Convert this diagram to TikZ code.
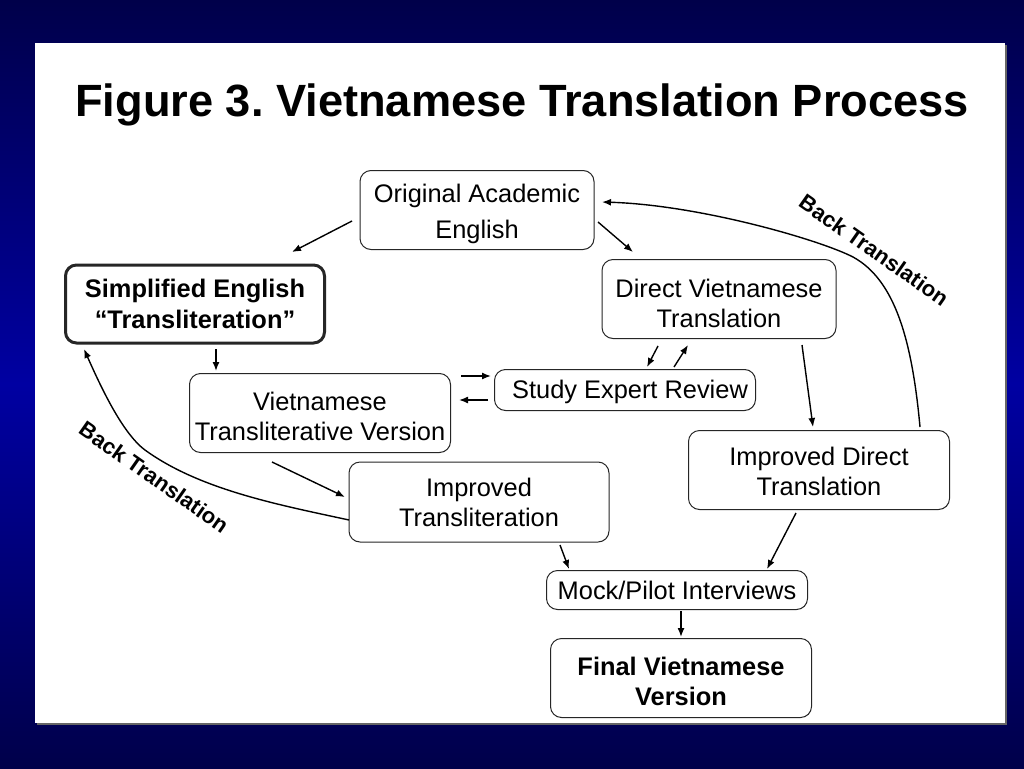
\documentclass[tikz,border=0pt]{standalone}
\usepackage{fontspec}
\setmainfont{Liberation Sans}
\usetikzlibrary{arrows.meta}
\definecolor{navy}{HTML}{00004A}
\definecolor{midblue}{HTML}{0000A2}
\begin{document}
\frenchspacing
\begin{tikzpicture}[x=1pt,y=-1pt,
  box/.style={draw=black!85,line width=1pt,rounded corners=11pt,fill=white,inner sep=0pt},
  thickbox/.style={box,line width=3pt},
  txt/.style={inner sep=0pt,align=center,font=\fontsize{25.4}{30}\selectfont},
  btxt/.style={txt,font=\bfseries\fontsize{25.4}{31}\selectfont},
  arr/.style={line width=1.4pt,-{Latex[length=9pt,width=7pt]}},
  lab/.style={font=\bfseries\fontsize{22}{24}\selectfont,rotate=-35}]
\useasboundingbox (0,0) rectangle (1024,768);
\shade[top color=navy,bottom color=navy,middle color=midblue] (0,0) rectangle (1024,768);
\fill[black!60] (37,45) rectangle (1007,725);
\fill[white] (35,43) rectangle (1005,723);
% title
\node[font=\bfseries\fontsize{45.2}{50}\selectfont] (title) at (522,105) {Figure 3. Vietnamese Translation Process};
% boxes
\node[box,minimum width=234pt,minimum height=79pt] (orig) at (477,210) {};
\node[thickbox,minimum width=259pt,minimum height=78pt] (simp) at (195,304) {};
\node[box,minimum width=234pt,minimum height=79pt] (direct) at (719,299) {};
\node[box,minimum width=261pt,minimum height=79pt] (vtv) at (320,413) {};
\node[box,minimum width=261pt,minimum height=41pt] (ser) at (625,390) {};
\node[box,minimum width=261pt,minimum height=79pt] (idt) at (819,470) {};
\node[box,minimum width=260pt,minimum height=80pt] (itr) at (479,502) {};
\node[box,minimum width=261pt,minimum height=39pt] (mock) at (677,590) {};
\node[box,minimum width=261pt,minimum height=79pt] (final) at (681,678) {};
% texts
\node[txt] (origT) at ([yshift=-4pt]orig.center) {Original Academic\\[6pt]English};
\node[btxt] (simpT) at (simp.center) {Simplified English\\``Transliteration''};
\node[txt] (directT) at ([yshift=-4pt]direct.center) {Direct Vietnamese\\Translation};
\node[txt] (vtvT) at ([yshift=-3pt]vtv.center) {Vietnamese\\Transliterative Version};
\node[txt] (serT) at ([xshift=5pt,yshift=-2pt]ser.center) {Study Expert Review};
\node[txt] (idtT) at ([yshift=-1pt]idt.center) {Improved Direct\\Translation};
\node[txt] (itrT) at (itr.center) {Improved\\Transliteration};
\node[txt] (mockT) at (mock.center) {Mock/Pilot Interviews};
\node[btxt,font=\bfseries\fontsize{25.4}{30}\selectfont] (finalT) at ([yshift=-3pt]final.center) {Final Vietnamese\\Version};
% connector end points
\coordinate (a1s) at (352,221); \coordinate (a1e) at (292,252);
\coordinate (a2s) at (598,222); \coordinate (a2e) at (633,252);
\coordinate (a3s) at (216,349); \coordinate (a3e) at (216,371);
\coordinate (a4s) at (461,376); \coordinate (a4e) at (491,376);
\coordinate (a5s) at (488,400); \coordinate (a5e) at (459,400);
\coordinate (a6s) at (658,346); \coordinate (a6e) at (647,367);
\coordinate (a7s) at (674,367); \coordinate (a7e) at (688,345);
\coordinate (a8s) at (272,462); \coordinate (a8e) at (345,497);
\coordinate (a9s) at (802,345); \coordinate (a9e) at (813,427);
\coordinate (a10s) at (560,545); \coordinate (a10e) at (569,569);
\coordinate (a11s) at (796,513); \coordinate (a11e) at (767,569);
\coordinate (a12s) at (681,611); \coordinate (a12e) at (681,637);
\coordinate (b1s) at (349,520); \coordinate (b1e) at (84,349);
\coordinate (b2s) at (920,427); \coordinate (b2e) at (602,202);
% connectors
\draw[arr] (a1s) -- (a1e);
\draw[arr] (a2s) -- (a2e);
\draw[arr] (a3s) -- (a3e);
\draw[arr] (a4s) -- (a4e);
\draw[arr] (a5s) -- (a5e);
\draw[arr] (a6s) -- (a6e);
\draw[arr] (a7s) -- (a7e);
\draw[arr] (a8s) -- (a8e);
\draw[arr] (a9s) -- (a9e);
\draw[arr] (a10s) -- (a10e);
\draw[arr] (a11s) -- (a11e);
\draw[arr] (a12s) -- (a12e);
\draw[arr] (b1s) .. controls (280,505) and (200,490) .. (145,450) .. controls (122,433) and (100,385) .. (b1e);
\draw[arr] (b2s) .. controls (912,340) and (895,280) .. (853,257) .. controls (820,240) and (700,205) .. (b2e);
% labels
\node[lab] (bl1) at (154,477) {Back Translation};
\node[lab] (bl2) at (874,250) {Back Translation};
\end{tikzpicture}
\end{document}
